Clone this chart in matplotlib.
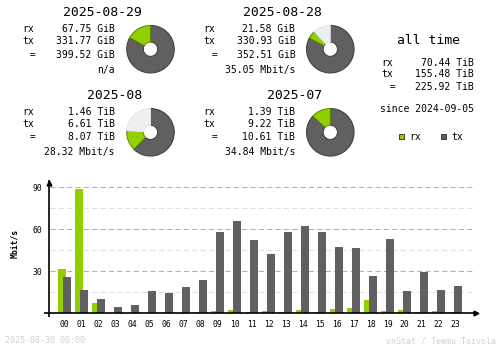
import matplotlib
matplotlib.use("Agg")
import matplotlib.pyplot as plt

W, H = 500, 348
MONO = "DejaVu Sans Mono"
RX_C = "#92cf00"
TX_C = "#606060"
EMPTY_C = "#efefef"

# summary data
day_names = ["2025-08-29", "2025-08-28"]
day_rx = [67.75, 21.58]          # GiB
day_tx = [331.77, 330.93]
day_total = [399.52, 352.51]
day_rate = ["n/a", "35.05 Mbit/s"]

month_names = ["2025-08", "2025-07"]
month_rx = [1.46, 1.39]          # TiB
month_tx = [6.61, 9.22]
month_total = [8.07, 10.61]
month_rate = ["28.32 Mbit/s", "34.84 Mbit/s"]

all_rx, all_tx, all_total = 70.44, 155.48, 225.92
since = "2024-09-05"

# hourly data, Mbit/s
hours = list(range(24))
hour_rx = [31.7, 88.8, 7.4, 0, 0, 0, 0, 0, 1.0, 1.7, 2.4, 1.0,
           1.7, 1.0, 2.4, 1.0, 3.1, 3.8, 9.5, 1.7, 2.4, 1.0, 1.7, 1.0]
hour_tx = [26.0, 16.7, 10.2, 4.5, 6.0, 16.0, 14.5, 18.8, 23.8, 58.1, 66.0, 52.4,
           42.4, 58.1, 62.4, 58.1, 47.4, 46.7, 26.7, 53.1, 16.0, 29.5, 16.7, 19.5]
y_ticks = [30, 60, 90]

fig = plt.figure(figsize=(W / 100, H / 100), dpi=100)
fig.patch.set_facecolor("white")

# pixel canvas for the text
bg = fig.add_axes([0, 0, 1, 1])
bg.set_xlim(0, W)
bg.set_ylim(H, 0)
bg.axis("off")


def txt(x, y, s, size=7.05, ha="left", color="black", **kw):
    bg.text(x, y, s, fontsize=size, ha=ha, va="baseline", color=color,
            family=MONO, **kw)


def donut(cx, cy, rx, tx, total, top):
    r = 24.5
    a = fig.add_axes([(cx - r) / W, (H - cy - r) / H, 2 * r / W, 2 * r / H])
    vals = [tx, rx, top - total]
    cols = [TX_C, RX_C, EMPTY_C]
    edges = ["#3a3a3a", "#5a8a00", "#e4e4e4"]
    keep = [i for i, v in enumerate(vals) if v > 0]
    wedges, _ = a.pie([vals[i] for i in keep], colors=[cols[i] for i in keep],
                      startangle=90, counterclock=False, radius=1,
                      wedgeprops=dict(width=0.7, linewidth=0.7))
    for w, i in zip(wedges, keep):
        w.set_edgecolor(edges[i])
    a.set_xlim(-1.03, 1.03)
    a.set_ylim(-1.03, 1.03)
    a.axis("off")


def panel(x_lab, x_val, x_title, y0, title, rx, tx, total, rate, unit, rate_y):
    txt(x_title, y0, title, size=9.45, ha="right")
    ys = [y0 + 16, y0 + 28, y0 + 41]
    txt(x_lab, ys[0], "rx")
    txt(x_lab, ys[1], "tx")
    txt(x_lab + 2.5, ys[2], " =")
    txt(x_val, ys[0], "%.2f %s" % (rx, unit), ha="right")
    txt(x_val, ys[1], "%.2f %s" % (tx, unit), ha="right")
    txt(x_val, ys[2], "%.2f %s" % (total, unit), ha="right")
    txt(x_val, rate_y, rate, ha="right")


cols_x = [(22, 115, 141.7, 150.5), (203, 295.3, 321.7, 330.3)]
for i in range(2):
    xl, xv, xt, cx = cols_x[i]
    panel(xl, xv, xt, 16.5, day_names[i], day_rx[i], day_tx[i], day_total[i],
          day_rate[i], "GiB", 72.5)
    donut(cx, 49.2, day_rx[i], day_tx[i], day_total[i], max(day_total))
    panel(xl, xv, xt, 99, month_names[i], month_rx[i], month_tx[i], month_total[i],
          month_rate[i], "TiB", 155)
    donut(cx, 132.3, month_rx[i], month_tx[i], month_total[i], max(month_total))

# all time block
txt(428.5, 44.3, "all time", size=9.45, ha="center")
txt(381, 65.5, "rx")
txt(381, 77, "tx")
txt(383.5, 89.5, " =")
txt(474, 65.5, "%.2f TiB" % all_rx, ha="right")
txt(474, 77, "%.2f TiB" % all_tx, ha="right")
txt(474, 89.5, "%.2f TiB" % all_total, ha="right")
txt(474, 111.5, "since " + since, ha="right")

# legend
for x0, col, edge, lab in [(398.5, RX_C, "#3a3a3a", "rx"), (440.5, TX_C, "#3a3a3a", "tx")]:
    bg.add_patch(plt.Rectangle((x0, 133.5), 5.5, 5.5, facecolor=col,
                               edgecolor=edge, linewidth=0.7))
    txt(x0 + 11, 140, lab)

# footer
txt(5, 343, "2025-08-30 00:00", size=6, color="#d0d0d0")
txt(496, 343, "vnStat / Teemu Toivola", size=6, ha="right", color="#d0d0d0")

# hourly bar chart, 17 px per hour, 1.4 px per Mbit/s
c0, base = 64.7, 313.3
px_x, px_y = 17.0, 1.4
left_px, right_px, top_px, bot_px = 44.3, 478.0, 180.0, 316.7
ax = fig.add_axes([left_px / W, (H - bot_px) / H,
                   (right_px - left_px) / W, (bot_px - top_px) / H])
ax.patch.set_alpha(0)
ax.set_xlim((left_px - c0) / px_x, (right_px - c0) / px_x)
ax.set_ylim((base - bot_px) / px_y, (base - top_px) / px_y)
for s in ax.spines.values():
    s.set_visible(False)

x_axis = (48.5 - c0) / px_x
grid_end = (472.7 - c0) / px_x
for v in [15, 45, 75]:
    ax.plot([x_axis + 0.08, grid_end], [v, v], color="#e0e0e0", lw=0.75,
            dashes=(5, 3), zorder=1)
for v in y_ticks:
    ax.plot([x_axis + 0.08, grid_end], [v, v], color="#b0b0b0", lw=0.75,
            dashes=(5, 3), zorder=1)

ax.bar([h - 0.376 for h in hours], hour_rx, width=0.453, align="edge",
       color=RX_C, zorder=2)
ax.bar([h - 0.1 for h in hours], hour_tx, width=0.47, align="edge",
       color=TX_C, zorder=3)

ax.axhline(0, color="black", lw=1.2, zorder=4)
ax.axvline(x_axis, color="black", lw=1.2, zorder=4)
ax.plot([x_axis], [(base - 182.5) / px_y], marker="^", ms=3.5, color="black",
        clip_on=False, zorder=5)
ax.plot([(right_px - 2.5 - c0) / px_x], [0], marker=">", ms=3.5, color="black",
        clip_on=False, zorder=5)

ax.set_xticks(hours)
ax.set_xticklabels(["%02d" % h for h in hours], family=MONO, fontsize=5.8)
ax.set_yticks(y_ticks)
ax.set_yticklabels([str(v) for v in y_ticks], family=MONO, fontsize=5.8)
ax.tick_params(length=0, pad=1.5)
ax.tick_params(axis="x", pad=2.5)

bg.text(14.5, 243, "Mbit/s", rotation=90, ha="center", va="center",
        fontsize=5.8, family=MONO, fontweight="bold")

fig.savefig("out.png", dpi=100, facecolor="white")
